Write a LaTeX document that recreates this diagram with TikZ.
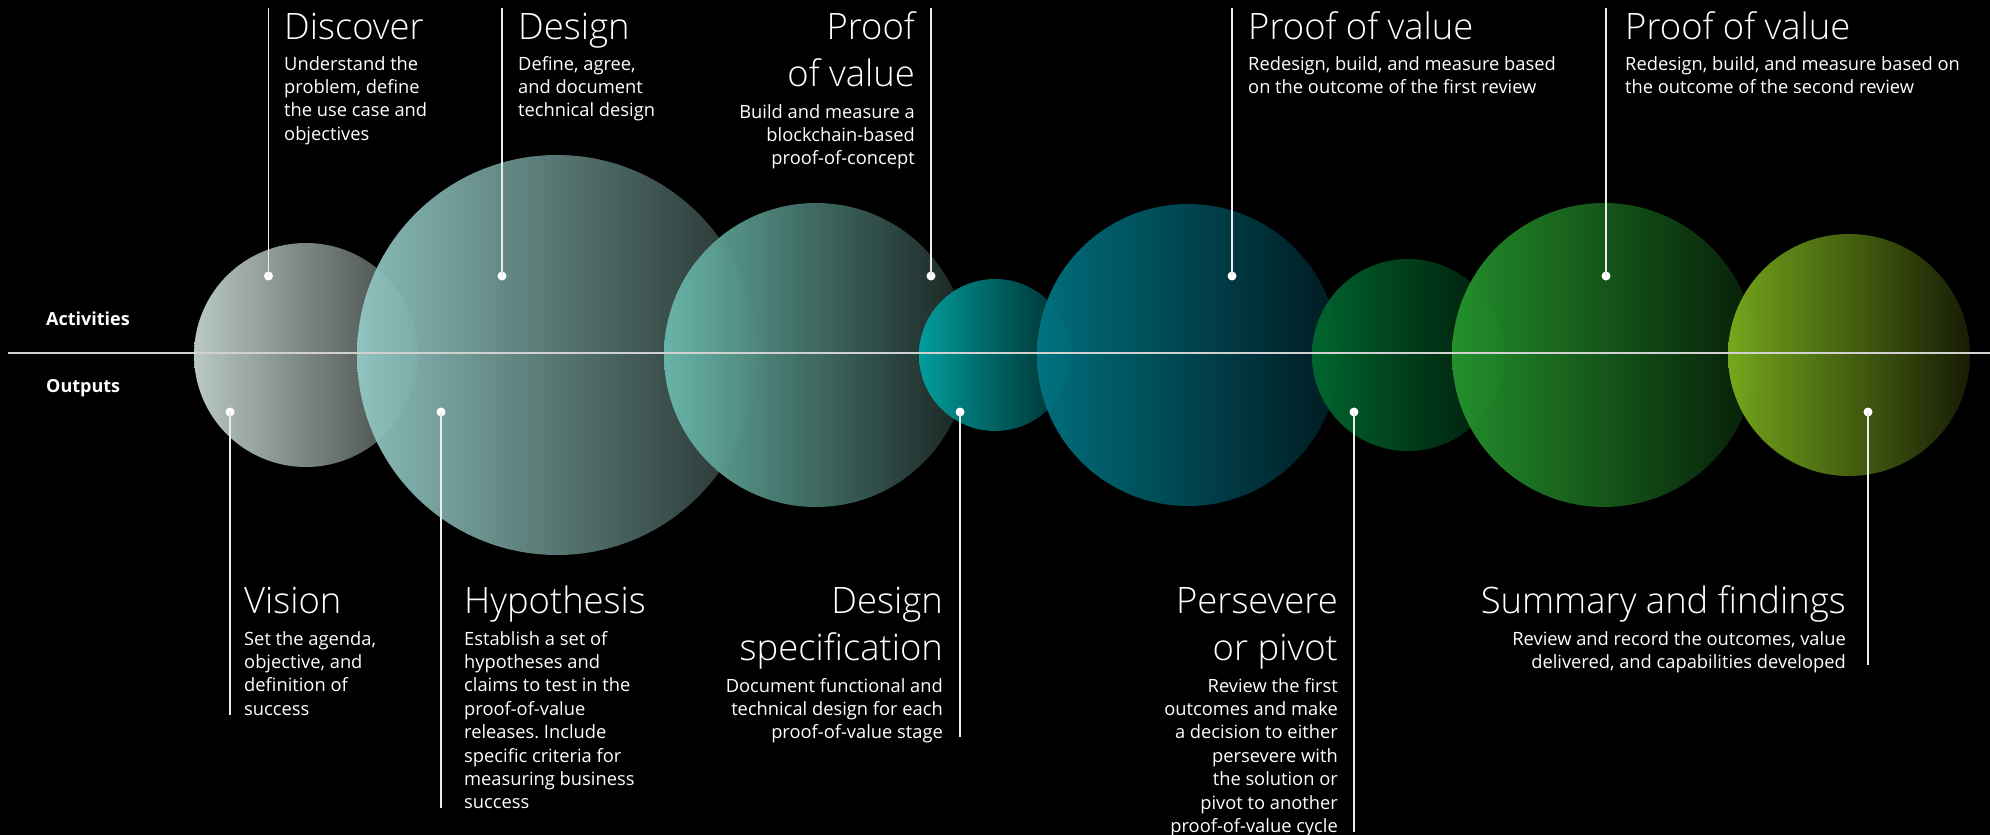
\documentclass[tikz,border=0pt]{standalone}
\usepackage{fontspec}
\setmainfont{Open Sans}
\newfontfamily\lightfont{Open Sans}[UprightFont={* Light}]
\frenchspacing
\begin{document}
\begin{tikzpicture}[x=1pt,y=-1pt,
  bubble/.style={fill opacity=0.93},
  title/.style={text=white,inner sep=0pt,font=\lightfont\fontsize{36.4}{47}\selectfont},
  body/.style={text=white,inner sep=0pt,font=\fontsize{18.3}{23.4}\selectfont},
  side/.style={text=white,inner sep=0pt,font=\bfseries\fontsize{18}{22}\selectfont,anchor=base west},
  pin/.style={draw=white!92!black,line width=1.4pt},
  dotmark/.style={circle,fill=white,inner sep=0pt,minimum size=9pt},
  axis/.style={draw=white!82!black,line width=2pt}
]
\fill[black] (0,0) rectangle (1990,835);
\useasboundingbox (0,0) rectangle (1990,835);

% bubbles
\shade[bubble,left color={rgb,255:red,200;green,216;blue,210},right color={rgb,255:red,64;green,72;blue,70}] (306,355) circle[radius=112];
\shade[bubble,left color={rgb,255:red,148;green,203;blue,198},right color={rgb,255:red,40;green,53;blue,50}] (557,355) circle[radius=200];
\shade[bubble,left color={rgb,255:red,108;green,188;blue,174},right color={rgb,255:red,28;green,38;blue,36}] (816,355) circle[radius=152];
\shade[bubble,left color={rgb,255:red,0;green,165;blue,165},right color={rgb,255:red,0;green,46;blue,46}] (995,355) circle[radius=76];
\shade[bubble,left color={rgb,255:red,0;green,120;blue,134},right color={rgb,255:red,0;green,28;blue,36}] (1188,355) circle[radius=151];
\shade[bubble,left color={rgb,255:red,0;green,108;blue,48},right color={rgb,255:red,0;green,26;blue,10}] (1408,355) circle[radius=96];
\shade[bubble,left color={rgb,255:red,38;green,153;blue,47},right color={rgb,255:red,8;green,32;blue,8}] (1604,355) circle[radius=152];
\shade[bubble,left color={rgb,255:red,124;green,178;blue,30},right color={rgb,255:red,26;green,31;blue,6}] (1849,355) circle[radius=121];

% axis
\coordinate (axL) at (8,353);
\coordinate (axR) at (1990,353);
\draw[axis] (axL) -- (axR);
\node[side] (act) at (46,325) {Activities};
\node[side] (out) at (46,392) {Outputs};

% ---- activities (top); multi-line nodes are anchored at the baseline of their last line
\node[dotmark] (d1) at (268.5,276) {};
\coordinate (t1) at (268.5,8);
\draw[pin] (t1) -- (d1.center);
\node[title,anchor=base west] (a1t) at (284,39) {Discover};
\node[body,anchor=base west,align=left] (a1b) at (284,140.2) {Understand the\\problem, define\\the use case and\\objectives};

\node[dotmark] (d2) at (502,276) {};
\coordinate (t2) at (502,8);
\draw[pin] (t2) -- (d2.center);
\node[title,anchor=base west] (a2t) at (518,39) {Design};
\node[body,anchor=base west,align=left] (a2b) at (518,116.8) {Define, agree,\\and document\\technical design};

\node[dotmark] (d3) at (931,276) {};
\coordinate (t3) at (931,8);
\draw[pin] (t3) -- (d3.center);
\node[title,anchor=base east,align=right] (a3t) at (915,86.5) {Proof\\of value};
\node[body,anchor=base east,align=right] (a3b) at (915,164.8) {Build and measure a\\blockchain-based\\proof-of-concept};

\node[dotmark] (d4) at (1232,276) {};
\coordinate (t4) at (1232,8);
\draw[pin] (t4) -- (d4.center);
\node[title,anchor=base west] (a4t) at (1248,39) {Proof of value};
\node[body,anchor=base west,align=left] (a4b) at (1248,93.4) {Redesign, build, and measure based\\on the outcome of the first review};

\node[dotmark] (d5) at (1606,276) {};
\coordinate (t5) at (1606,8);
\draw[pin] (t5) -- (d5.center);
\node[title,anchor=base west] (a5t) at (1625,39) {Proof of value};
\node[body,anchor=base west,align=left] (a5b) at (1625,93.4) {Redesign, build, and measure based on\\the outcome of the second review};

% ---- outputs (bottom)
\node[dotmark] (e1) at (230,412) {};
\coordinate (b1) at (230,715);
\draw[pin] (e1.center) -- (b1);
\node[title,anchor=base west] (o1t) at (244,613) {Vision};
\node[body,anchor=base west,align=left] (o1b) at (244,715.2) {Set the agenda,\\objective, and\\definition of\\success};

\node[dotmark] (e2) at (441,412) {};
\coordinate (b2) at (441,808);
\draw[pin] (e2.center) -- (b2);
\node[title,anchor=base west] (o2t) at (464,613) {Hypothesis};
\node[body,anchor=base west,align=left] (o2b) at (464,808.8) {Establish a set of\\hypotheses and\\claims to test in the\\proof-of-value\\releases. Include\\specific criteria for\\measuring business\\success};

\node[dotmark] (e3) at (960,412) {};
\coordinate (b3) at (960,737);
\draw[pin] (e3.center) -- (b3);
\node[title,anchor=base east,align=right] (o3t) at (943,660) {Design\\specification};
\node[body,anchor=base east,align=right] (o3b) at (943,738.8) {Document functional and\\technical design for each\\proof-of-value stage};

\node[dotmark] (e4) at (1354,412) {};
\coordinate (b4) at (1354,832);
\draw[pin] (e4.center) -- (b4);
\node[title,anchor=base east,align=right] (o4t) at (1338,660) {Persevere\\or pivot};
\node[body,anchor=base east,align=right] (o4b) at (1338,832.4) {Review the first\\outcomes and make\\a decision to either\\persevere with\\the solution or\\pivot to another\\proof-of-value cycle};

\node[dotmark] (e5) at (1868,412) {};
\coordinate (b5) at (1868,665);
\draw[pin] (e5.center) -- (b5);
\node[title,anchor=base east] (o5t) at (1846,613) {Summary and findings};
\node[body,anchor=base east,align=right] (o5b) at (1846,668.4) {Review and record the outcomes, value\\delivered, and capabilities developed};
\end{tikzpicture}
\end{document}
